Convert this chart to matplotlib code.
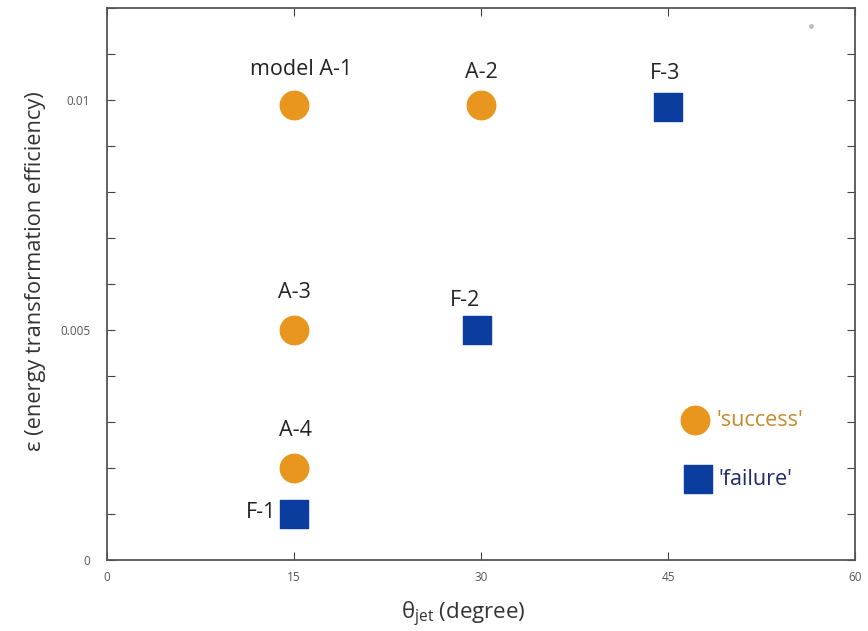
import numpy as np
import matplotlib
matplotlib.use("Agg")
import matplotlib.pyplot as plt
from matplotlib.ticker import MultipleLocator

plt.rcParams['font.family'] = ['Open Sans', 'DejaVu Sans']
plt.rcParams['mathtext.fontset'] = 'custom'
plt.rcParams['mathtext.rm'] = 'Open Sans'

# success models (orange circles)
succ_names = ["model A-1", "A-2", "A-3", "A-4"]
succ_theta = [15, 30, 15, 15]
succ_eps = [0.0099, 0.0099, 0.005, 0.002]

# failure models (blue squares)
fail_names = ["F-1", "F-2", "F-3"]
fail_theta = [15, 29.7, 45]
fail_eps = [0.001, 0.005, 0.00985]

# legend-like key drawn in the plot
key_theta = [47.2, 47.4]
key_eps = [0.00304, 0.00176]
key_text = ["'success'", "'failure'"]

orange = "#E8961E"
blue = "#0B3D9E"

fig = plt.figure(figsize=(8.68, 6.31), dpi=100)
ax = fig.add_axes([107/868, 1-560/631, 748/868, 552/631])

ax.scatter(succ_theta, succ_eps, s=420, marker='o', color=orange, zorder=3)
ax.scatter(fail_theta, fail_eps, s=400, marker='s', color=blue, zorder=3)
ax.scatter(key_theta[0], key_eps[0], s=420, marker='o', color=orange, zorder=3)
ax.scatter(key_theta[1], key_eps[1], s=400, marker='s', color=blue, zorder=3)
# stray grey dot in the corner
ax.scatter([56.5], [0.0116], s=6, color='#bbbbbb')

# label offsets in points
succ_off = [(5, 25), (0, 23), (0, 27), (1, 27)]
for name, x, y, off in zip(succ_names, succ_theta, succ_eps, succ_off):
    ax.annotate(name, (x, y), xytext=off, textcoords='offset points',
                ha='center', va='center', fontsize=15.5, color='#222222')

fail_off = [(-13, 1), (-9, 21), (-2, 24)]
fail_ha = ['right', 'center', 'center']
for name, x, y, off, ha in zip(fail_names, fail_theta, fail_eps, fail_off, fail_ha):
    ax.annotate(name, (x, y), xytext=off, textcoords='offset points',
                ha=ha, va='center', fontsize=15.5, color='#222222')

ax.annotate(key_text[0], (key_theta[0], key_eps[0]), xytext=(15, 0),
            textcoords='offset points', ha='left', va='center',
            fontsize=15.5, color='#C8892A')
ax.annotate(key_text[1], (key_theta[1], key_eps[1]), xytext=(15, 0),
            textcoords='offset points', ha='left', va='center',
            fontsize=15.5, color='#1F2A6B')

ax.set_xlim(0, 60)
ax.set_ylim(0, 0.012)
ax.set_xticks([0, 15, 30, 45, 60])
ax.set_xticklabels(["0", "15", "30", "45", "60"])
ax.set_yticks([0, 0.005, 0.01])
ax.set_yticklabels(["0", "0.005", "0.01"])
ax.yaxis.set_minor_locator(MultipleLocator(0.001))
ax.tick_params(axis='both', which='both', direction='in', top=True, right=True,
               labelsize=8.5, labelcolor='#555555', color='#444444')
ax.tick_params(which='major', length=6, width=0.8)
ax.tick_params(which='minor', length=6, width=0.8)
ax.tick_params(axis='y', pad=12)
ax.tick_params(axis='x', pad=8)
for s in ax.spines.values():
    s.set_color('#555555')
    s.set_linewidth(1.3)

ax.set_xlabel(r"θ$_\mathrm{jet}$ (degree)", fontsize=16, color='#333333')
ax.set_ylabel("ε (energy transformation efficiency)", fontsize=15.7, color='#333333')
ax.xaxis.set_label_coords(0.476, -0.072)
ax.yaxis.set_label_coords(-0.081, 0.524)

fig.savefig("out.png", dpi=100)
